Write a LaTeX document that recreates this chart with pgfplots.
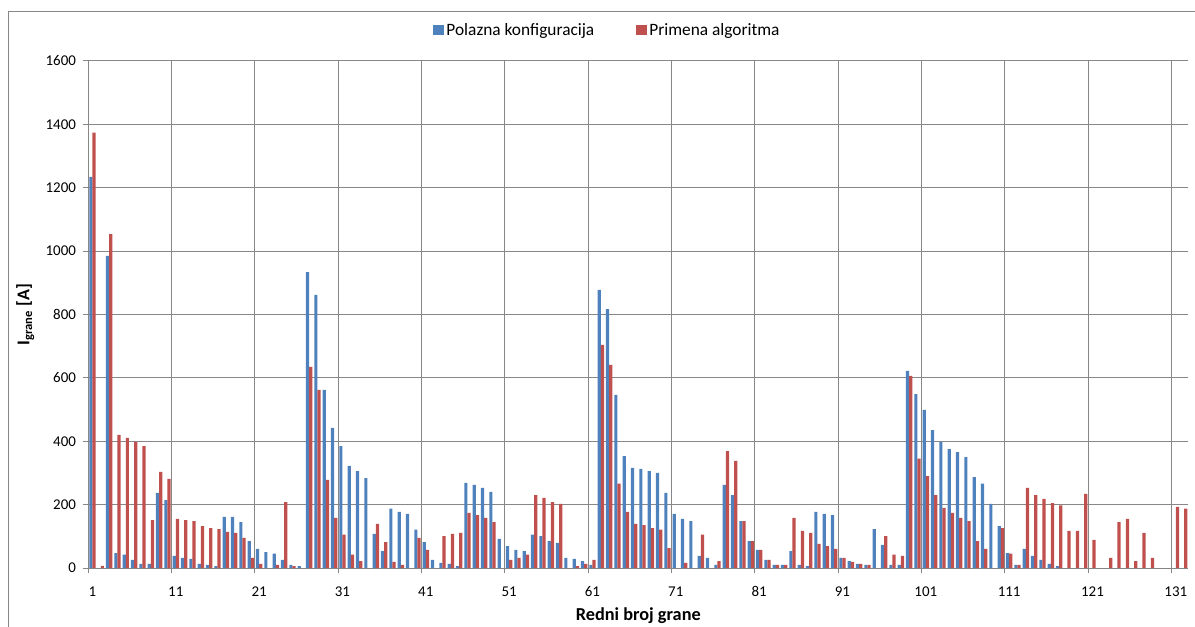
\documentclass[border=0pt]{standalone}
\usepackage{pgfplots}
\pgfplotsset{compat=1.18}
\usepackage{pgfplotstable}
\usepackage{fontspec}
\setmainfont{Carlito}
\definecolor{cblue}{HTML}{4F81BD}
\definecolor{cred}{HTML}{C0504D}
\definecolor{cgrid}{HTML}{878787}
\pgfplotsset{/pgfplots/ybar legend/.style={/pgfplots/legend image code/.code={\fill[##1] (0pt,-4.1pt) rectangle (8.25pt,4.1pt);}}}

\pgfplotstableread{
x b r
1 1234 1374
2 0 7
3 985 1054
4 47 420
5 42 411
6 26 398
7 13 385
8 13 151
9 237 303
10 214 281
11 38 155
12 32 151
13 29 148
14 13 132
15 10 126
16 6 123
17 161 114
18 161 111
19 145 95
20 85 32
21 60 13
22 50 0
23 45 10
24 26 208
25 10 6
26 6 0
27 934 635
28 862 562
29 562 278
30 442 158
31 385 105
32 322 42
33 306 22
34 284 0
35 108 139
36 53 82
37 187 19
38 177 10
39 171 0
40 121 95
41 82 57
42 26 0
43 16 101
44 13 108
45 6 111
46 269 174
47 262 167
48 253 158
49 240 145
50 92 0
51 69 26
52 57 32
53 53 42
54 105 230
55 101 221
56 85 208
57 79 202
58 32 0
59 29 6
60 22 13
61 10 26
62 878 704
63 817 641
64 546 266
65 353 177
66 316 139
67 313 135
68 306 126
69 300 121
70 237 63
71 171 0
72 155 16
73 148 0
74 38 105
75 32 0
76 10 22
77 262 369
78 230 338
79 148 148
80 85 85
81 57 57
82 26 26
83 10 10
84 10 10
85 53 158
86 10 117
87 6 111
88 177 76
89 171 69
90 167 60
91 32 32
92 22 19
93 13 13
94 10 10
95 123 0
96 73 101
97 10 42
98 10 38
99 622 606
100 549 345
101 499 290
102 435 230
103 398 190
104 375 174
105 366 158
106 350 148
107 287 85
108 266 60
109 202 0
110 132 126
111 47 45
112 10 10
113 60 253
114 38 230
115 26 218
116 13 205
117 6 198
118 0 117
119 0 117
120 0 234
121 0 89
122 0 0
123 0 32
124 0 145
125 0 155
126 0 22
127 0 111
128 0 32
129 0 0
130 0 0
131 0 193
132 0 187
}\datatable

\begin{document}
\begin{tikzpicture}
\path[use as bounding box] (0pt,0pt) rectangle (896.25pt,469.5pt);
\draw[cgrid, line width=0.75pt] (6pt,-5pt) -- (6pt,460.5pt) -- (900pt,460.5pt);
\begin{axis}[
  at={(66.225pt,43.5pt)}, anchor=south west,
  scale only axis,
  width=825pt, height=380.25pt,
  ybar=0pt, bar width=2.4pt,
  xmin=0.5, xmax=132.5,
  ymin=0, ymax=1600,
  ytick={0,200,...,1600},
  xtick={0.5,10.5,...,130.5},
  xticklabels={,,,,,,,,,,,,,,},
  extra x ticks={1,11,21,31,41,51,61,71,81,91,101,111,121,131},
  extra x tick labels={1,11,21,31,41,51,61,71,81,91,101,111,121,131},
  extra x tick style={grid=none, major tick length=0pt},
  xmajorgrids, ymajorgrids,
  major grid style={draw=cgrid, line width=0.75pt},
  axis line style={draw=cgrid, line width=0.75pt},
  tick style={draw=cgrid, line width=0.75pt},
  tick align=outside, major tick length=3.75pt,
  axis x line*=bottom, axis y line*=left,
  /pgf/number format/assume math mode=true,
  /pgf/number format/set thousands separator={},
  tick label style={font=\fontsize{11.2}{12}\selectfont, text=black},
  yticklabel style={xshift=-2pt},
  xticklabel style={yshift=-10.5pt},
  ylabel={\textbf{I\textsubscript{grane} [A]}},
  ylabel style={font=\fontsize{13.5}{15}\selectfont, at={(axis description cs:-0.0573,0.5)}, anchor=center},
  xlabel={\textbf{Redni broj grane}},
  xlabel style={font=\fontsize{13.7}{15}\selectfont, at={(axis description cs:0.5,0)}, anchor=center, yshift=-35.5pt},
  legend style={at={(axis description cs:0.472,1)}, anchor=center, yshift=23.25pt,
    draw=none, fill=none, font=\fontsize{13}{15}\selectfont,
    /tikz/every even column/.append style={column sep=29pt}},
  legend columns=2,
  legend cell align=left,
]
\addplot[fill=cblue, draw=none] table[x=x, y=b] {\datatable};
\addlegendentry{Polazna konfiguracija}
\addplot[fill=cred, draw=none] table[x=x, y=r] {\datatable};
\addlegendentry{Primena algoritma}
\end{axis}
\end{tikzpicture}
\end{document}
